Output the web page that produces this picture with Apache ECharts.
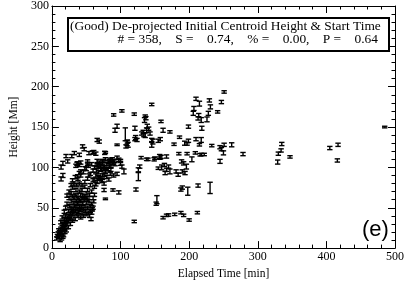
<!DOCTYPE html>
<html><head><meta charset="utf-8">
<script src="https://cdn.jsdelivr.net/npm/echarts@6/dist/echarts.min.js"></script>
<style>html,body{margin:0;padding:0;background:#fff}#c{width:407px;height:285px}</style>
</head><body><div id="c"></div>
<script>
// Elapsed time [min], height [Mm], half error bar [Mm]
const timeVals = [
485,233,222,218,245,247,251,250,245,262,278.5,330,329,335,334,347,405,417,416,230.5,188,198,213,190,153,152,162,167,170,179,188,192,200,212,120,122.5,78,89,97.5,76,
147,155,178,186,193.5,197,199,210,217.6,215,149,157,185,197,204,209,216,189,192,196,190,194,155,160,164,170,172,165,167,181,184,162,172,145.5,159,199,218.5,
251,210,215,207,206,213,217.6,214,229.5,231,228,226,241.5,247,
90,102,120,136,135,139,95,92,121,133,136,131,107,121,109.5,111,108,110,122,124,145.5,145.5,158,95,78,130,138,159,128,126,126,97.5,100,102,105,95,140,150,157.5,167,143,138,141,134,137,
66,69,44.7,47,32.7,40,29,54,59,64,61,20.6,16,23,13.4,37.5,40,35,42,52,53,66,71,76,16,13.4,36.5,40,42,37.5,52,48,66,71,76,69,61.5,64,73.5,78,69,77,85.5,88,84,80,86,90,92,83,90,95,100,82,74,
7,8,9,10,11,12,10,13,14,15,16,17,18,16,19,20,21,22,23,24,25,20,18,26,27,28,29,30,31,32,33,34,35,36,37,38,39,40,41,42,43,44,45,46,47,48,49,50,51,52,53,54,55,56,57,58,59,60,61,62,55,50,45,40,35,30,28,25,22,20,18,15,13,24,26,28,32,34,38,42,44,48,52,56,58,60,62,64,66,68,70,72,74,76,78,80,82,84,86,88,90,85,80,76,72,68,65,62,70,74,78,66,60,56,52,48,44,40,36,32,30,34,38,42,46,50,54,58,28,25,22,30,36,46,42,38,34,30,50,56,60,44,48,52,58,27,24,21,19,17,14,12,16,40,36,32,28
];
const heightVals = [
150,127,116,116,125,122.6,128,118,107.5,128,116.5,117,106.6,129,121,113,124,128,108.6,74.6,72.6,70.5,77.5,75,60,55,37.7,40.6,41,41.8,43.9,40.6,34.8,43.9,33,72.6,61,72,69,72,
132,133,128.7,137.4,130,129,133,135,134,128,110,113.5,117,117,110,118,115.6,107.4,105,101,95,93,99,100,103,101,95,93,97,95,91,146,144,178,157,150.5,148.5,
193.5,185,179,173,167,160.7,158.7,164.8,183,175,167,159.5,168.8,181,
165,170,166,163.5,158.7,151,151,146,148.5,144,140,142,141,135,130,128,126,132,137,134,134,128,135,128,118.5,112,110,113,101,97,88.6,109.5,105,101,95,92,110,111.5,111.5,113.5,142,146,148,140,161,
134,132,126,122.6,117.7,115.6,114,117.7,118.5,117,119,114,105,107.4,100.4,105,103,102,106,107.4,102,103,102,100.4,90,85.7,104.5,93,95,89,104.5,99,101,97,91,87,85,79,83,95,106,118,109.5,105,101,98,97,108,104,85,90,112,108,107,108,
12,15,18,14,20,17,22,24,19,26,22,28,25,30,32,28,35,30,38,33,40,40,36,36,44,38,46,42,48,44,52,46,50,42,55,48,45,52,47,58,50,44,55,48,60,52,46,56,62,50,44,58,40,52,36,55,48,62,58,66,66,68,65,70,72,75,68,62,55,50,45,38,32,46,52,58,62,66,62,66,72,76,72,78,70,84,76,90,82,94,86,98,90,100,94,104,98,108,102,110,106,92,88,80,84,88,96,100,104,106,110,108,96,92,86,82,78,80,78,80,84,88,86,90,94,98,90,104,78,70,65,64,58,40,38,40,36,34,42,46,50,62,64,60,44,30,26,22,20,16,12,10,14,60,64,56,50
];
const errVals = [
1,1.5,1.5,1.5,2,2,2,2.5,2.5,2.5,2,2,2.5,2,2,1.5,2,2,2,7,2,5,2,2,5,2,1.5,1.5,1.5,1.5,1.5,1.5,1.5,1.5,1.5,2,1,1.5,2,2,
3,2,1.5,1.5,2.5,1.5,2,2,3,1.5,2,2.5,1.5,1.5,3,1.5,1.5,2,2,3,2,2,1.5,3,2,2,3,2,2,2,2,2.5,1.5,1.5,1.5,2,2.5,
1.5,2,3,2.5,2.5,2,3,2,2,2.5,2.5,3,1.5,2,
1.5,1.5,1.5,1.5,3,2.5,2.5,2.5,2.5,2,3,2,8,2,3,3,2,2,2.5,2,2,3,2,1,1,1.5,1.5,2,2,2.5,5,2,2.5,2,3,2,1.5,1.5,1.5,2,2,3,2,2,2,
2,2,2,2,2,2,2,2,2,2,2,2,2.5,2,2.5,2,2,2,2,2,2,2,2,2,2.5,2.5,2,2,2,2,2,2,2,2,2,2,2,2,2,2,2,2,2,2,2,2,2,2,2,2,2,2,2,2,2,2,
2,2,2,2,2,2,2,2,2,2,2,2,2,2,2,2,2,2,2,2,2,2,2,2,2,2,2,2,2,2,2,2,2,2,2,2,2,2,2,2,2,2,2,2,2,2,2,2,2,2,2,2,2,2,2,2,2,2,2,2,2,2,2,2,2,2,2,2,2,2,2,2,2,2,2,2,2,2,2,2,2,2,2,2,2,2,2,2,2,2,2,2,2,2,2,2,2,2,2,2,2,2,2,2,2,2,2,2,2,2,2,2,2,2,2,2,2,2,2,2,2,2,2,2,2,2,2,2,2,2,2,2,2,2,2,2,2,2,2,2,2,2,2,2,2,2,2,2,2,2,2,2,2,2,2,2,2,2,2,2,2,2,2,2,2,2,2,2,2,2,2,2,2,2,2,2,2,2,2,2,2
];
const xTicks = [0,100,200,300,400,500];
const yTicks = [0,50,100,150,200,250,300];
const boxLine1 = '(Good) De-projected Initial Centroid Height & Start Time';
const boxLine2 = '# = 358,    S =    0.74,    % =    0.00,    P =    0.64';
const panelTag = '(e)';

const n = Math.min(timeVals.length, heightVals.length);
const pts = [];
for (let i = 0; i < n; i++) pts.push([timeVals[i], heightVals[i], errVals[i] !== undefined ? errVals[i] : 2]);

const serif = 'Liberation Serif';
const tickStyle = {show:true, inside:true, length:7, lineStyle:{color:'#000', width:1}};
const minorStyle = {show:true, length:3.5, lineStyle:{color:'#000', width:1}};
const axLine = {show:true, onZero:false, lineStyle:{color:'#000', width:1}};

const chart = echarts.init(document.getElementById('c'), null, {renderer:'canvas'});
chart.setOption({
  animation:false,
  backgroundColor:'#fff',
  grid:{left:49, right:11, top:5, bottom:36},
  xAxis:[
    {type:'value', min:xTicks[0], max:xTicks[xTicks.length-1], interval:100, position:'bottom',
     name:'Elapsed Time [min]', nameLocation:'middle', nameGap:13,
     nameTextStyle:{fontFamily:serif, fontSize:11.5, color:'#000'},
     axisLine:axLine, axisTick:tickStyle, minorTick:Object.assign({splitNumber:5}, minorStyle),
     axisLabel:{fontFamily:serif, fontSize:12, color:'#000', margin:3},
     splitLine:{show:false}},
    {type:'value', min:xTicks[0], max:xTicks[xTicks.length-1], interval:100, position:'top',
     axisLine:axLine, axisTick:tickStyle, minorTick:Object.assign({splitNumber:5}, minorStyle),
     axisLabel:{show:false}, splitLine:{show:false}}
  ],
  yAxis:[
    {type:'value', min:yTicks[0], max:yTicks[yTicks.length-1], interval:50, position:'left',
     name:'Height [Mm]', nameLocation:'middle', nameGap:28,
     nameTextStyle:{fontFamily:serif, fontSize:11.5, color:'#000'},
     axisLine:axLine, axisTick:tickStyle, minorTick:Object.assign({splitNumber:5}, minorStyle),
     axisLabel:{fontFamily:serif, fontSize:12, color:'#000', margin:3},
     splitLine:{show:false}},
    {type:'value', min:yTicks[0], max:yTicks[yTicks.length-1], interval:50, position:'right',
     axisLine:axLine, axisTick:tickStyle, minorTick:Object.assign({splitNumber:5}, minorStyle),
     axisLabel:{show:false}, splitLine:{show:false}}
  ],
  series:[{
    type:'custom', xAxisIndex:0, yAxisIndex:0,
    data:pts,
    encode:{x:0, y:1},
    renderItem:function(params, api){
      const x = api.value(0), y = api.value(1), e = api.value(2);
      const t = api.coord([x, y + e]);
      const b = api.coord([x, y - e]);
      const hw = 2.7;
      const st = {stroke:'#000', lineWidth:1.4};
      return {type:'group', children:[
        {type:'line', shape:{x1:t[0], y1:t[1], x2:b[0], y2:b[1]}, style:st},
        {type:'line', shape:{x1:t[0]-hw, y1:t[1], x2:t[0]+hw, y2:t[1]}, style:st},
        {type:'line', shape:{x1:b[0]-hw, y1:b[1], x2:b[0]+hw, y2:b[1]}, style:st}
      ]};
    }
  }],
  graphic:[
    {type:'rect', left:67, top:17, shape:{width:321, height:33}, style:{fill:'#fff', stroke:'#000', lineWidth:2}, z:100},
    {type:'text', left:70, top:20, style:{text:boxLine1, font:'13.4px "Liberation Serif"', fill:'#000'}, z:101},
    {type:'text', right:29, top:33, style:{text:boxLine2, font:'13.4px "Liberation Serif"', fill:'#000', textAlign:'right'}, z:101},
    {type:'text', left:362, top:219, style:{text:panelTag, font:'22px "Liberation Sans"', fill:'#000'}, z:101}
  ]
});
</script></body></html>
